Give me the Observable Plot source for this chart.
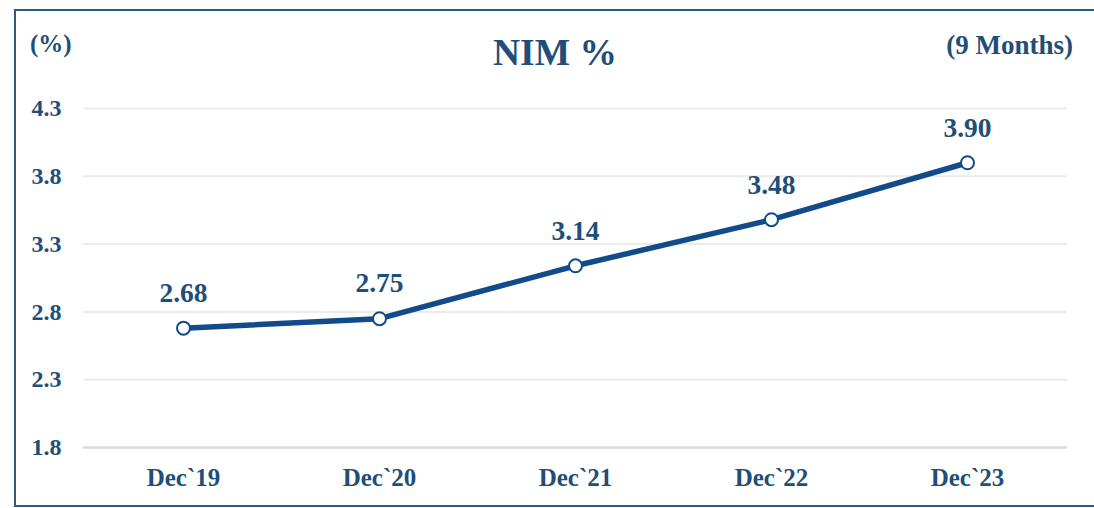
<!DOCTYPE html>
<html>
<head>
<meta charset="utf-8">
<script src="https://cdn.jsdelivr.net/npm/d3@7"></script>
<script src="https://cdn.jsdelivr.net/npm/@observablehq/plot@0.6"></script>
<style>
  html, body { margin: 0; padding: 0; background: #fff; }
  #wrap { position: relative; width: 1094px; height: 508px; overflow: hidden; }
  #frame { position: absolute; left: 14px; top: 9px; width: 1100px; height: 494px;
           border: 2px solid #2e5b86; border-right: none; box-sizing: content-box; }
  #chart { position: absolute; left: 0; top: 0; }
  #titles { position: absolute; left: 0; top: 0; }
  #titles text { font-family: "Liberation Serif", serif; font-weight: bold; fill: #1f4e79; }
</style>
</head>
<body>
<div id="wrap">
  <div id="frame"></div>
  <div id="chart"></div>
  <svg id="titles" width="1094" height="508">
    <text x="30" y="52" font-size="25">(%)</text>
    <text x="555" y="65" font-size="37.5" text-anchor="middle">NIM %</text>
    <text x="1073" y="54" font-size="27" text-anchor="end">(9 Months)</text>
  </svg>
</div>
<script>
const categories = ["Dec`19", "Dec`20", "Dec`21", "Dec`22", "Dec`23"];
const nimValues = [2.68, 2.75, 3.14, 3.48, 3.90];
const valueLabels = ["2.68", "2.75", "3.14", "3.48", "3.90"];
const yTicks = [1.8, 2.3, 2.8, 3.3, 3.8, 4.3];

const data = categories.map((c, i) => ({ period: c, value: nimValues[i], label: valueLabels[i] }));

const lineColor = "#114b8a";
const textColor = "#1f4e79";

const chart = Plot.plot({
  width: 1094,
  height: 508,
  marginLeft: 83,
  marginRight: 27,
  marginTop: 108,
  marginBottom: 61,
  style: { fontFamily: "'Liberation Serif', serif", fontWeight: "bold", color: textColor, background: "transparent", overflow: "visible" },
  x: { type: "point", domain: categories, padding: 0.5 },
  y: { domain: [1.8, 4.3] },
  marks: [
    Plot.ruleY(yTicks.slice(1), { stroke: "#ebebeb", strokeWidth: 2 }),
    Plot.ruleY([yTicks[0]], { stroke: "#d9d9d9", strokeWidth: 2.5 }),
    Plot.axisY({ ticks: yTicks, tickFormat: d => d.toFixed(1), tickSize: 0, tickPadding: 22, label: null, fontSize: 24, fontWeight: "bold" }),
    Plot.axisX({ tickSize: 0, tickPadding: 21, label: null, fontSize: 25, fontWeight: "bold" }),
    Plot.line(data, { x: "period", y: "value", stroke: lineColor, strokeWidth: 5.5 }),
    Plot.dot(data, { x: "period", y: "value", r: 6.5, fill: "white", stroke: lineColor, strokeWidth: 2 }),
    Plot.text(data, { x: "period", y: "value", text: "label", dy: -35, fontSize: 27.5, fontWeight: "bold", fill: textColor })
  ]
});
document.getElementById("chart").appendChild(chart);
</script>
</body>
</html>
